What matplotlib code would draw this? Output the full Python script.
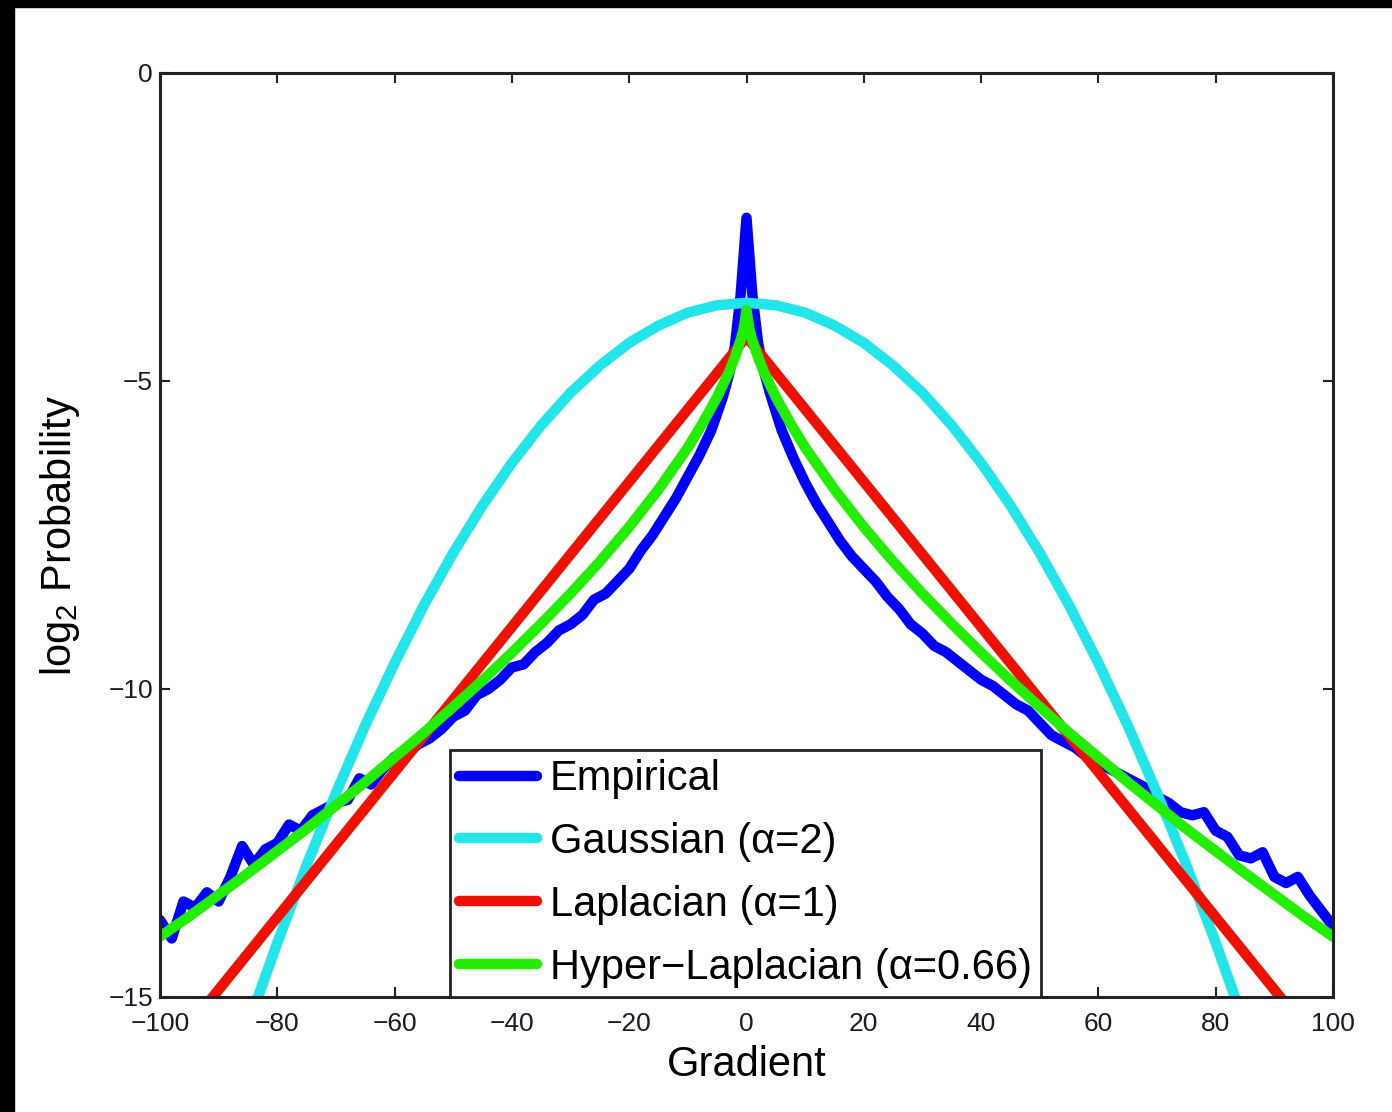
import matplotlib
matplotlib.use("Agg")
import matplotlib.pyplot as plt
from matplotlib.patches import Rectangle

plt.rcParams['font.family'] = ['Liberation Sans', 'DejaVu Sans']
plt.rcParams['mathtext.fontset'] = 'custom'
plt.rcParams['mathtext.rm'] = 'Liberation Sans'

# ---- data ----
emp_x = [-100, -98, -96, -94, -92, -90, -88, -86, -84, -82, -80, -78, -76, -74, -72, -70,
         -68, -66, -64, -62, -60, -58, -56, -54, -52, -50, -48, -46, -44, -42, -40, -38,
         -36, -34, -32, -30, -28, -26, -24, -22, -20, -18, -16, -14, -12, -10, -8, -6,
         -4, -3, -2, -1, 0, 1, 2, 3, 4, 6, 8, 10, 12, 14, 16, 18, 20, 22, 24, 26, 28, 30,
         32, 34, 36, 38, 40, 42, 44, 46, 48, 50, 52, 54, 56, 58, 60, 62, 64, 66, 68, 70,
         72, 74, 76, 78, 80, 82, 84, 86, 88, 90, 92, 94, 96, 98, 100]
emp_y = [-13.75, -14.05, -13.45, -13.55, -13.3, -13.45, -13.05, -12.55, -12.85, -12.6, -12.5,
         -12.2, -12.3, -12.05, -11.95, -11.85, -11.8, -11.45, -11.55, -11.3, -11.1, -11.05,
         -10.9, -10.8, -10.65, -10.45, -10.35, -10.1, -10.0, -9.85, -9.65, -9.6, -9.4, -9.25,
         -9.05, -8.95, -8.8, -8.55, -8.45, -8.25, -8.05, -7.75, -7.5, -7.2, -6.9, -6.55, -6.2,
         -5.8, -5.25, -4.9, -4.45, -3.6, -2.35, -3.6, -4.4, -4.85, -5.2, -5.8, -6.25, -6.65,
         -7.0, -7.3, -7.6, -7.85, -8.05, -8.25, -8.5, -8.7, -8.95, -9.1, -9.3, -9.4, -9.55,
         -9.7, -9.85, -9.95, -10.1, -10.25, -10.35, -10.55, -10.75, -10.85, -10.95, -11.1,
         -11.2, -11.3, -11.4, -11.5, -11.6, -11.75, -11.85, -12.0, -12.05, -12.0, -12.3,
         -12.4, -12.7, -12.75, -12.65, -13.05, -13.15, -13.05, -13.35, -13.6, -13.85]

gauss_x = [-85, -80, -75, -70, -65, -60, -55, -50, -45, -40, -35, -30, -25, -20, -15, -10, -5,
           0, 5, 10, 15, 20, 25, 30, 35, 40, 45, 50, 55, 60, 65, 70, 75, 80, 85]
gauss_y = [-15.46, -14.12, -12.86, -11.69, -10.59, -9.58, -8.64, -7.79, -7.02, -6.33, -5.72,
           -5.19, -4.75, -4.38, -4.10, -3.89, -3.77, -3.73, -3.77, -3.89, -4.10, -4.38, -4.75,
           -5.19, -5.72, -6.33, -7.02, -7.79, -8.64, -9.58, -10.59, -11.69, -12.86, -14.12,
           -15.46]

lap_x = [-100, 0, 100]
lap_y = [-16.06, -4.28, -16.06]

hyp_x = [-100, -95, -90, -85, -80, -75, -70, -65, -60, -55, -50, -45, -40, -35, -30, -25, -20,
         -15, -10, -7.5, -5, -3, -2, -1, -0.5, 0, 0.5, 1, 2, 3, 5, 7.5, 10, 15, 20, 25, 30,
         35, 40, 45, 50, 55, 60, 65, 70, 75, 80, 85, 90, 95, 100]
hyp_y = [-14.02, -13.69, -13.34, -12.99, -12.63, -12.27, -11.89, -11.51, -11.11, -10.71,
         -10.29, -9.86, -9.41, -8.94, -8.45, -7.93, -7.37, -6.76, -6.08, -5.69, -5.26, -4.86,
         -4.62, -4.34, -4.16, -3.85, -4.16, -4.34, -4.62, -4.86, -5.26, -5.69, -6.08, -6.76,
         -7.37, -7.93, -8.45, -8.94, -9.41, -9.86, -10.29, -10.71, -11.11, -11.51, -11.89,
         -12.27, -12.63, -12.99, -13.34, -13.69, -14.02]

labels = ["Empirical", "Gaussian (α=2)", "Laplacian (α=1)", "Hyper\u2212Laplacian (α=0.66)"]
colors = ["#0000ff", "#22e5ea", "#ee1100", "#22ee00"]
x_ticks = [-100, -80, -60, -40, -20, 0, 20, 40, 60, 80, 100]
y_ticks = [-15, -10, -5, 0]

# ---- figure ----
fig = plt.figure(figsize=(13.92, 11.12), dpi=100)
fig.patch.set_facecolor('white')
ax = fig.add_axes([160/1392, 115/1112, (1333-160)/1392, (997-73)/1112])

lw = 7.5
series = [(emp_x, emp_y), (gauss_x, gauss_y), (lap_x, lap_y), (hyp_x, hyp_y)]
for (xs, ys), c, lab in zip(series, colors, labels):
    ax.plot(xs, ys, color=c, lw=lw, label=lab, solid_capstyle='round', solid_joinstyle='round')

ax.set_xlim(-100, 100)
ax.set_ylim(-15, 0)
ax.set_xticks(x_ticks)
ax.set_yticks(y_ticks)
ax.tick_params(direction='in', length=7, width=1.5, top=True, right=True,
               labelsize=19, colors='#222222', labelcolor='#1a1a2a')
ax.tick_params(axis='x', pad=11)
ax.tick_params(axis='y', pad=5)
for s in ax.spines.values():
    s.set_linewidth(2.2)
    s.set_color('#222222')

ax.set_xlabel("Gradient", fontsize=30, labelpad=6)
ax.set_ylabel(r"log$_\mathregular{2}$ Probability", fontsize=30, labelpad=19)

leg = ax.legend(loc='lower left', bbox_to_anchor=((450-160)/1173, 0.0), fontsize=30,
                frameon=True, fancybox=False, framealpha=1.0, edgecolor='#222222',
                borderaxespad=0, handlelength=1.87, handletextpad=0.3,
                labelspacing=0.55, borderpad=0.22)
leg.get_frame().set_linewidth(2)

# black borders of the screenshot
fig.patches.append(Rectangle((0, 1 - 7/1112), 1, 7/1112, transform=fig.transFigure,
                             color='black', zorder=10))
fig.patches.append(Rectangle((0, 0), 14/1392, 1, transform=fig.transFigure,
                             color='black', zorder=10))

fig.savefig("out.png", dpi=100)
